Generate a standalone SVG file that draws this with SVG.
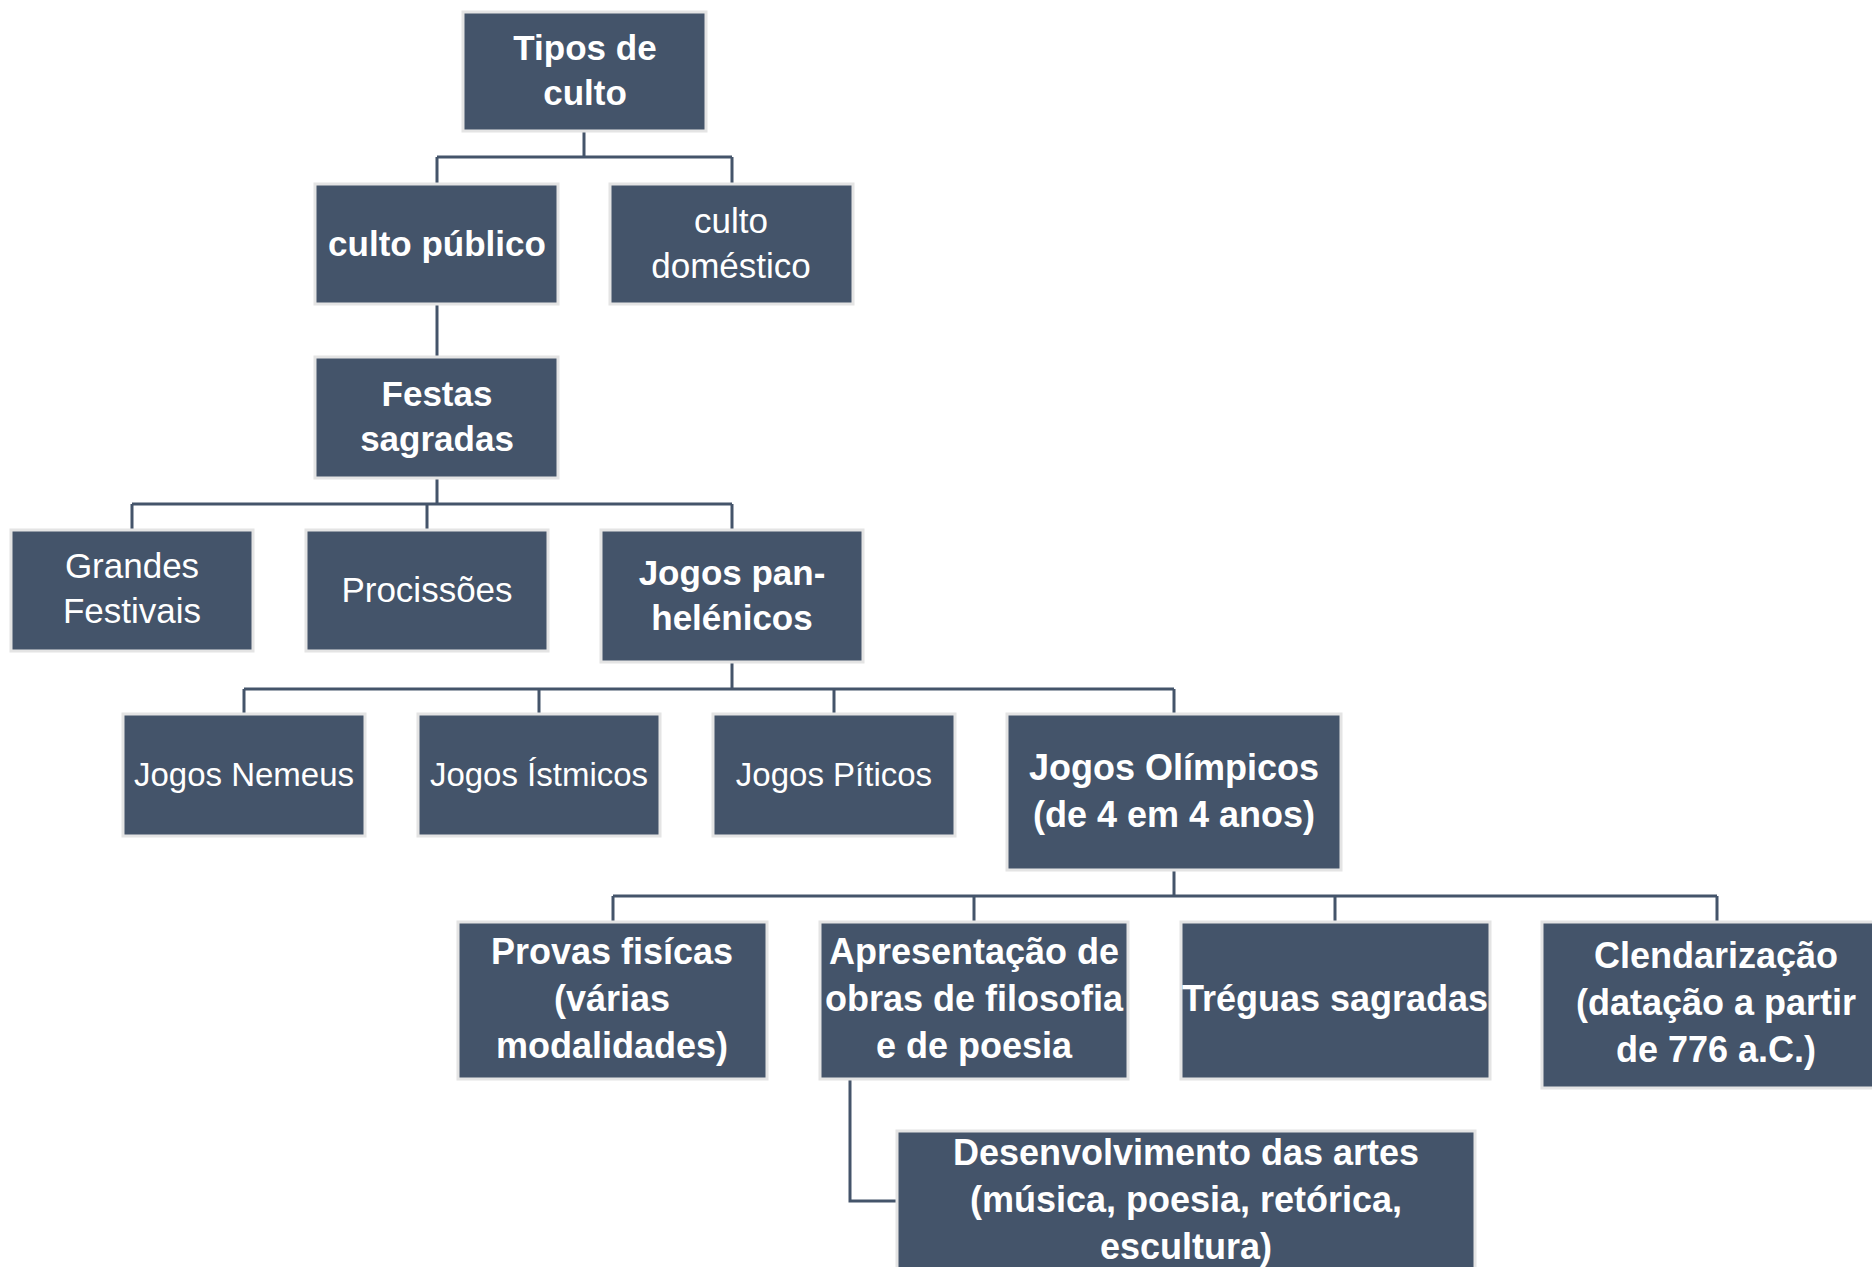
<svg xmlns="http://www.w3.org/2000/svg" width="1872" height="1267" viewBox="0 0 1872 1267">
<style>
.box{fill:#44546A;stroke:#E4E4E4;stroke-width:3}
.t{font-family:"Liberation Sans",Arial,sans-serif;font-size:35px;fill:#FFFFFF;text-anchor:middle}
.b{font-weight:bold}
.s{font-size:36px}
.r{font-size:33px}
.c{fill:none;stroke:#44546A;stroke-width:3}
</style>
<rect x="0" y="0" width="1872" height="1267" fill="#FFFFFF"/>
<g id="connectors">
<path class="c" d="M584,131V157M437,157H732M437,157V184M732,157V184"/>
<path class="c" d="M437,304V357"/>
<path class="c" d="M437,478V504M132,504H732M132,504V530M427,504V530M732,504V530"/>
<path class="c" d="M732,662V689M244,689H1174M244,689V714M539,689V714M834,689V714M1174,689V714"/>
<path class="c" d="M1174,870V896M613,896H1717M613,896V922M974,896V922M1335,896V922M1717,896V922"/>
<path class="c" d="M850,1079V1201H897"/>
</g>
<g id="tipos"><rect class="box" x="463" y="12" width="243" height="119"/>
<text class="t b" x="585" y="60">Tipos de</text><text class="t b" x="585" y="105">culto</text></g>
<g id="culto-publico"><rect class="box" x="315" y="184" width="243" height="120"/>
<text class="t b" x="437" y="256">culto público</text></g>
<g id="culto-domestico"><rect class="box" x="610" y="184" width="243" height="120"/>
<text class="t" x="731" y="233">culto</text><text class="t" x="731" y="278">doméstico</text></g>
<g id="festas"><rect class="box" x="315" y="357" width="243" height="121"/>
<text class="t b" x="437" y="406">Festas</text><text class="t b" x="437" y="451">sagradas</text></g>
<g id="grandes"><rect class="box" x="11" y="530" width="242" height="121"/>
<text class="t" x="132" y="578">Grandes</text><text class="t" x="132" y="623">Festivais</text></g>
<g id="procissoes"><rect class="box" x="306" y="530" width="242" height="121"/>
<text class="t" x="427" y="602">Procissões</text></g>
<g id="jogos-pan"><rect class="box" x="601" y="530" width="262" height="132"/>
<text class="t b" x="732" y="585">Jogos pan-</text><text class="t b" x="732" y="630">helénicos</text></g>
<g id="nemeus"><rect class="box" x="123" y="714" width="242" height="122"/>
<text class="t r" x="244" y="786">Jogos Nemeus</text></g>
<g id="istmicos"><rect class="box" x="418" y="714" width="242" height="122"/>
<text class="t r" x="539" y="786">Jogos Ístmicos</text></g>
<g id="piticos"><rect class="box" x="713" y="714" width="242" height="122"/>
<text class="t r" x="834" y="786">Jogos Píticos</text></g>
<g id="olimpicos"><rect class="box" x="1007" y="714" width="334" height="156"/>
<text class="t b s" x="1174" y="780">Jogos Olímpicos</text><text class="t b s" x="1174" y="827">(de 4 em 4 anos)</text></g>
<g id="provas"><rect class="box" x="458" y="922" width="309" height="157"/>
<text class="t b s" x="612" y="964">Provas fisícas</text><text class="t b s" x="612" y="1011">(várias</text><text class="t b s" x="612" y="1058">modalidades)</text></g>
<g id="apresentacao"><rect class="box" x="820" y="922" width="308" height="157"/>
<text class="t b s" x="974" y="964">Apresentação de</text><text class="t b s" x="974" y="1011">obras de filosofia</text><text class="t b s" x="974" y="1058">e de poesia</text></g>
<g id="treguas"><rect class="box" x="1181" y="922" width="309" height="157"/>
<text class="t b s" x="1335" y="1011">Tréguas sagradas</text></g>
<g id="clendarizacao"><rect class="box" x="1542" y="922" width="350" height="166"/>
<text class="t b s" x="1716" y="968">Clendarização</text><text class="t b s" x="1716" y="1015">(datação a partir</text><text class="t b s" x="1716" y="1062">de 776 a.C.)</text></g>
<g id="desenvolvimento"><rect class="box" x="897" y="1131" width="578" height="140"/>
<text class="t b s" x="1186" y="1165">Desenvolvimento das artes</text><text class="t b s" x="1186" y="1212">(música, poesia, retórica,</text><text class="t b s" x="1186" y="1259">escultura)</text></g>
</svg>
